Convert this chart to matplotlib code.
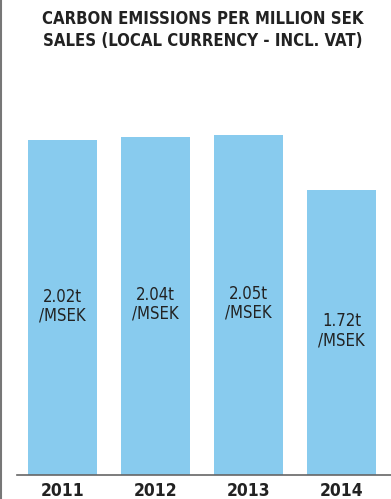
import matplotlib
matplotlib.use("Agg")
import matplotlib.pyplot as plt
from matplotlib.lines import Line2D

years = ["2011", "2012", "2013", "2014"]
emissions = [2.02, 2.04, 2.05, 1.72]
value_labels = ["2.02t\n/MSEK", "2.04t\n/MSEK", "2.05t\n/MSEK", "1.72t\n/MSEK"]

W, H = 391, 499
fig = plt.figure(figsize=(W / 100, H / 100), dpi=100)
ax = fig.add_axes([17 / W, 24 / H, (W - 17) / W, 375 / H])

x = range(len(years))
ax.bar(x, emissions, width=0.74, color="#88cbee")
ax.set_xlim(-0.49, 3.53)
ax.set_ylim(0, 375 / 165.8)

cond = dict(family="DejaVu Sans", stretch="condensed")
for xi, v, lab in zip(x, emissions, value_labels):
    ax.text(xi, v / 2 + 0.01, lab, ha="center", va="center", fontsize=12,
            color="#222222", linespacing=1.05, **cond)

for s in ["top", "right", "left"]:
    ax.spines[s].set_visible(False)
ax.spines["bottom"].set_color("#666666")
ax.spines["bottom"].set_linewidth(1.2)
ax.set_yticks([])
ax.set_xticks(list(x))
ax.set_xticklabels(years, fontsize=12.5, fontweight="bold", color="#222222", **cond)
ax.tick_params(axis="x", length=0, pad=5)

fig.text(203 / W, 1 - 30 / H, "CARBON EMISSIONS PER MILLION SEK\nSALES (LOCAL CURRENCY - INCL. VAT)",
         ha="center", va="center", fontsize=12, fontweight="bold",
         color="#222222", linespacing=1.25, **cond)

fig.add_artist(Line2D([1.2 / W, 1.2 / W], [0, 1], color="#777777", linewidth=1.5,
                      transform=fig.transFigure))

fig.savefig("out.png", dpi=100)
